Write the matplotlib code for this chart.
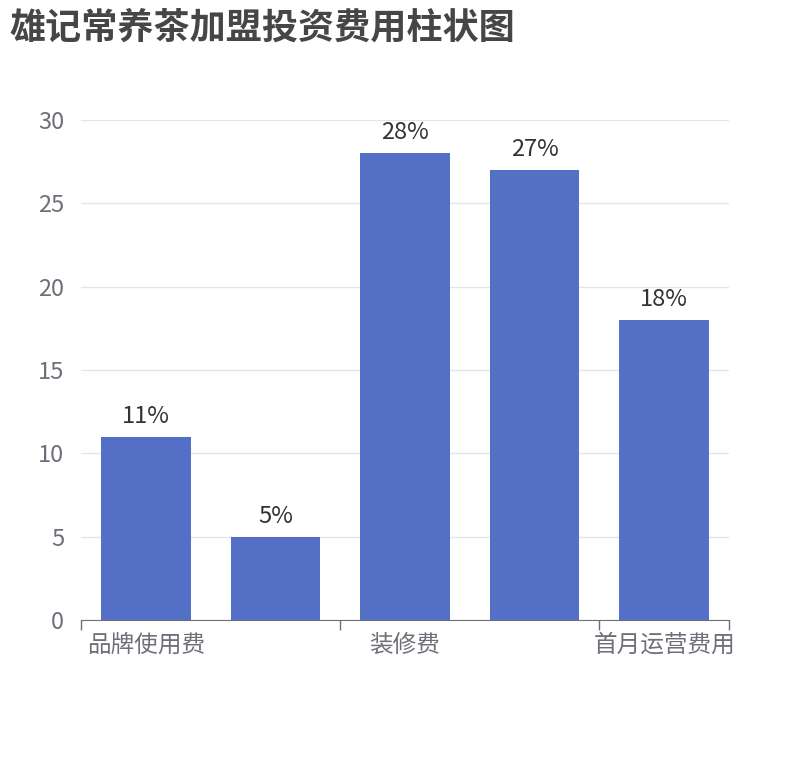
import matplotlib.pyplot as plt
import numpy as np

plt.rcParams['font.family'] = ['Noto Sans CJK SC', 'DejaVu Sans']

# data
categories = ['品牌使用费', '加盟费', '装修费', '设备费', '首月运营费用']
values = [11, 5, 28, 27, 18]
shown_labels = [0, 2, 4]   # echarts hides every other label

fig = plt.figure(figsize=(8.1, 7.6), dpi=100)
ax = fig.add_axes([0.1, 0.1842, 0.8, 0.6579])

x = np.arange(len(categories))
bars = ax.bar(x, values, width=0.69, color='#5470c6', zorder=3)
for b, v in zip(bars, values):
    ax.text(b.get_x() + b.get_width() / 2, v + 0.55, f'{v}%', ha='center', va='bottom',
            fontsize=17, color='#333333')

ax.set_xlim(-0.5, len(categories) - 0.5)
ax.set_ylim(0, 30)
ax.set_yticks([0, 5, 10, 15, 20, 25, 30])
ax.yaxis.grid(True, color='#e0e6f1', linewidth=1, zorder=0)
ax.tick_params(axis='y', length=0, labelsize=17, labelcolor='#6e7079', pad=12)

ax.set_xticks(shown_labels)
ax.set_xticklabels([categories[i] for i in shown_labels])
ax.tick_params(axis='x', which='major', length=0, labelsize=17, labelcolor='#6e7079', pad=10)
ax.set_xticks([-0.5, 1.5, 3.5, 4.5], minor=True)
ax.tick_params(axis='x', which='minor', length=7, color='#6e7079', width=1)

for s in ['top', 'right', 'left']:
    ax.spines[s].set_visible(False)
ax.spines['bottom'].set_color('#6e7079')

fig.text(0.012, 0.963, '雄记常养茶加盟投资费用柱状图', fontsize=26, fontweight='bold',
         color='#464646', va='center', ha='left')

plt.savefig('out.png')
